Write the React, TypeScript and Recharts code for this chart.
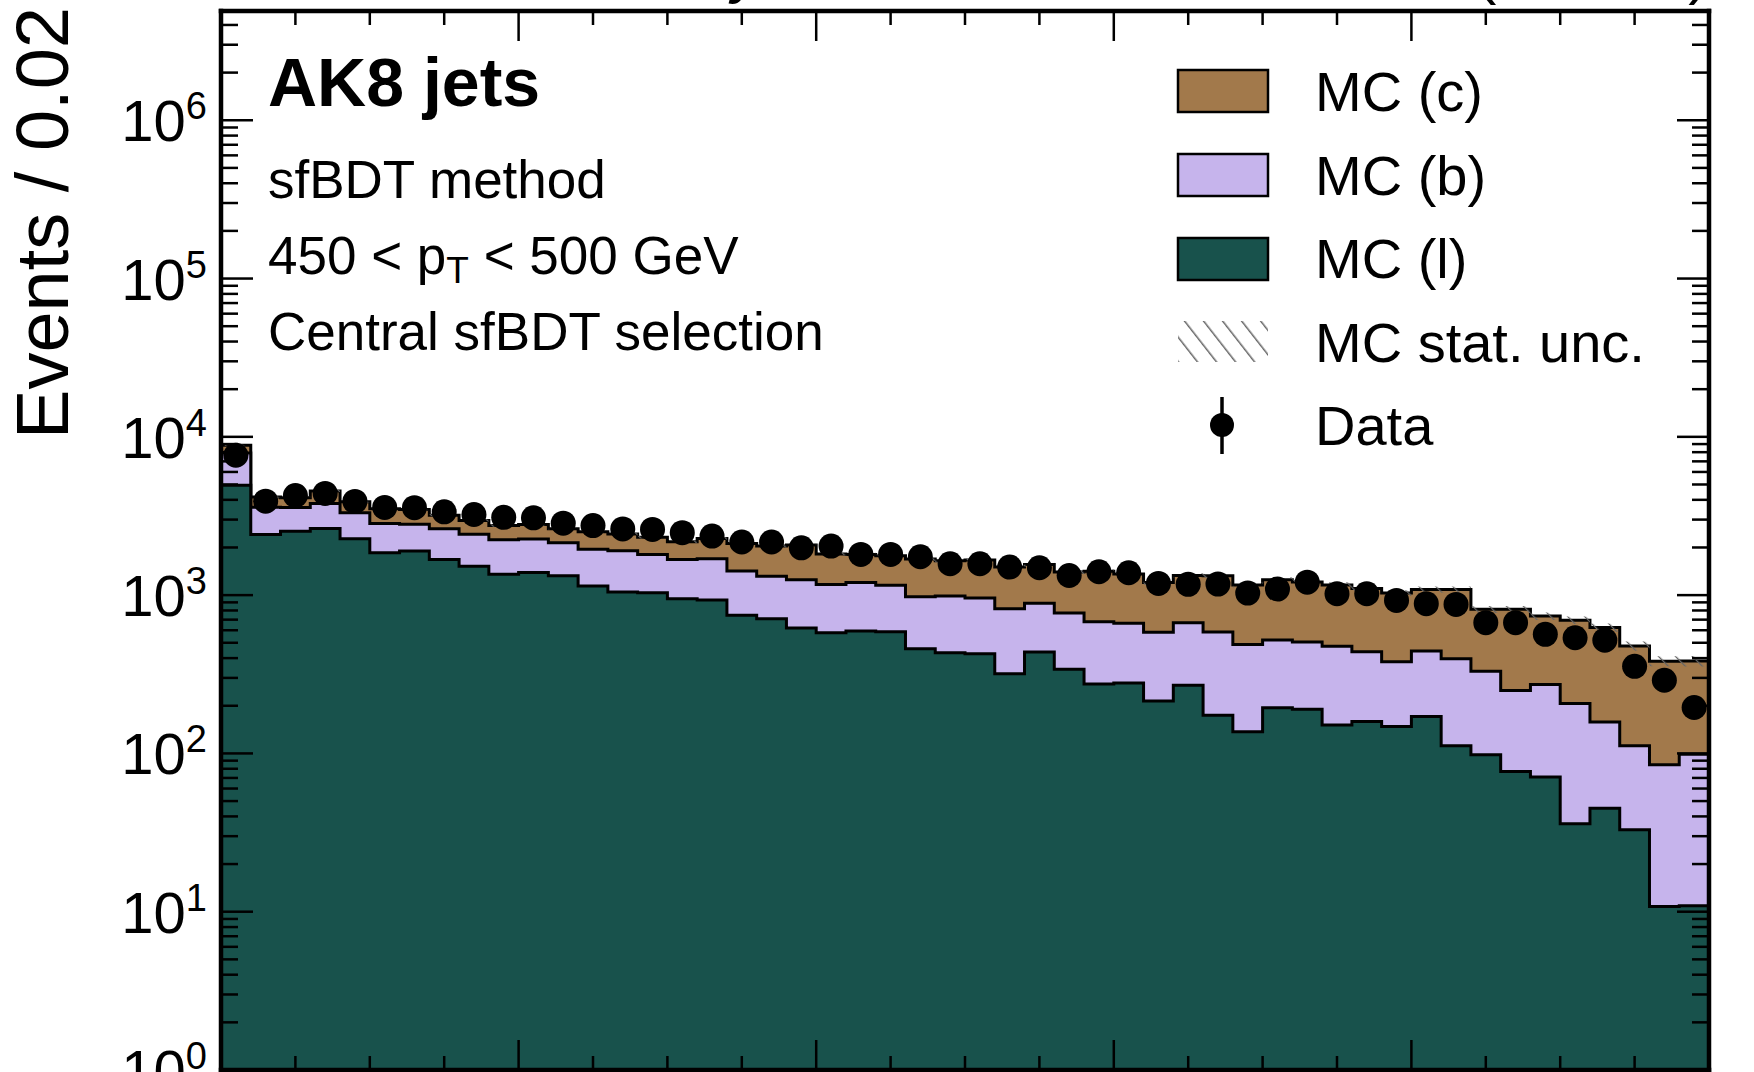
import React from 'react';
import { ComposedChart, Area, Line, XAxis, YAxis } from 'recharts';

const FONT = '"Liberation Sans", Arial, Helvetica, sans-serif';
const BROWN = '#a2794b';
const PURPLE = '#c6b4ec';
const GREEN = '#18524c';

// 50 bins of width 0.02 on [0, 1]
const BIN_WIDTH = 0.02;

// stacked MC yields per bin
const mcLight = [4950, 2415, 2535, 2635, 2270, 1850, 1900, 1680, 1522, 1355, 1390, 1325, 1140, 1048, 1035, 948, 930, 745, 708, 620, 579, 593, 587, 458, 432, 426, 319, 437, 340, 275, 279, 214, 270, 174, 137, 194, 190, 151, 159, 148, 171, 112, 98, 77, 71, 36, 45, 33, 10.8, 10.9];
const mcB = [2950, 1175, 1045, 1155, 1040, 980, 900, 950, 898, 885, 875, 817, 810, 857, 770, 732, 770, 673, 610, 630, 590, 607, 568, 519, 554, 534, 502, 450, 430, 403, 386, 368, 400, 410, 351, 326, 315, 325, 280, 232, 273, 284, 233, 173, 202, 171, 113, 79, 74, 88];
const mcC = [950, 580, 540, 760, 580, 680, 675, 570, 545, 515, 525, 488, 560, 525, 515, 490, 580, 702, 727, 820, 651, 608, 615, 713, 664, 708, 684, 675, 630, 737, 697, 618, 660, 741, 672, 730, 705, 684, 661, 650, 642, 690, 482, 563, 464, 488, 467, 365, 298, 284];
const mcStatUnc = [105, 62, 62, 66, 58, 55, 55, 52, 50, 48, 49, 47, 46, 46, 45, 44, 45, 45, 44, 45, 42, 43, 43, 42, 42, 43, 41, 43, 41, 42, 42, 40, 45, 46, 43, 47, 47, 46, 45, 44, 48, 49, 41, 42, 40, 39, 37, 32, 28, 29];
const dataCounts = [7650, 3925, 4260, 4390, 3910, 3580, 3570, 3360, 3230, 3100, 3080, 2850, 2750, 2620, 2600, 2480, 2360, 2165, 2165, 1990, 2040, 1807, 1807, 1747, 1578, 1578, 1504, 1489, 1331, 1405, 1384, 1185, 1170, 1175, 1030, 1092, 1208, 1020, 1020, 926, 883, 874, 670, 670, 565, 538, 519, 355, 290, 195];

const xTicks = [0, 0.05, 0.1, 0.15, 0.2, 0.25, 0.3, 0.35, 0.4, 0.45, 0.5, 0.55, 0.6, 0.65, 0.7, 0.75, 0.8, 0.85, 0.9, 0.95, 1];
const decades = [1, 10, 100, 1e3, 1e4, 1e5, 1e6];
const Y_MAX = 4.9e6;
const yTicks = decades.flatMap((d) => [1, 2, 3, 4, 5, 6, 7, 8, 9].map((m) => m * d)).filter((v) => v <= Y_MAX);

// histogram table: one row at each bin edge and one at each bin centre (for the data points)
const rows: any[] = [];
mcLight.forEach((l, i) => {
  const lb = l + mcB[i];
  const tot = lb + mcC[i];
  const base = { l, lb, tot, band: [tot - mcStatUnc[i], tot + mcStatUnc[i]] };
  rows.push({ x: i * BIN_WIDTH, ...base });
  rows.push({ x: (i + 0.5) * BIN_WIDTH, ...base, data: dataCounts[i] });
  if (i === mcLight.length - 1) rows.push({ x: (i + 1) * BIN_WIDTH, ...base });
});

const YTick = (props: any) => {
  const { x, y, payload, side } = props;
  const lg = Math.log10(payload.value);
  const exp = Math.round(lg);
  const major = Math.abs(lg - exp) < 1e-6;
  const dir = side === 'left' ? 1 : -1;
  const len = major ? 32 : 17;
  return (
    <g>
      <line x1={x} x2={x + dir * len} y1={y} y2={y} stroke="#000" strokeWidth={2.5} />
      {major && side === 'left' && (
        <text x={x - 14} y={y + 21} textAnchor="end" fontFamily={FONT} fontSize={58} fill="#000">
          10<tspan dy={-22} fontSize={38}>{exp}</tspan>
        </text>
      )}
    </g>
  );
};

const XTick = (props: any) => {
  const { x, y, payload, side } = props;
  const v = payload.value;
  const major = Math.abs(v * 5 - Math.round(v * 5)) < 1e-6;
  const dir = side === 'bottom' ? -1 : 1;
  const len = major ? 30 : 14;
  return <line x1={x} x2={x} y1={y} y2={y + dir * len} stroke="#000" strokeWidth={2.5} />;
};

const frame = { stroke: '#000', strokeWidth: 4.5, strokeLinecap: 'square' as const };

const Overlay = () => (
  <svg width={1754} height={1072} style={{ position: 'absolute', left: 0, top: 0, pointerEvents: 'none' }}>
    <defs>
      <pattern id="mcHatch" patternUnits="userSpaceOnUse" width={12} height={12} patternTransform="rotate(-45)">
        <line x1={0} y1={0} x2={0} y2={12} stroke="#666" strokeWidth={2.5} />
      </pattern>
      <pattern id="legHatch" patternUnits="userSpaceOnUse" width={15} height={15} patternTransform="rotate(-38)">
        <line x1={0} y1={0} x2={0} y2={15} stroke="#666" strokeWidth={3} />
      </pattern>
    </defs>
    <g fontFamily={FONT} fill="#000">
      {/* header, cut off by the top edge */}
      <text x={221} y={-8} fontSize={70} fontWeight="bold">CMS</text>
      <text x={762} y={-8} fontSize={60} fontStyle="italic" textAnchor="end">Preliminary</text>
      <text x={1709} y={-8} fontSize={62} textAnchor="end">138 fb<tspan dy={-22} fontSize={42}>-1</tspan><tspan dy={22}> (13 TeV)</tspan></text>

      <text transform="rotate(-90)" x={-7} y={68} textAnchor="end" fontSize={74}>Events / 0.02</text>

      <text x={268} y={106} fontSize={68} fontWeight="bold">AK8 jets</text>
      <text x={268} y={198} fontSize={53}>sfBDT method</text>
      <text x={268} y={274} fontSize={53}>
        450 &lt; p<tspan fontSize={37} dy={9}>T</tspan><tspan dy={-9}> &lt; 500 GeV</tspan>
      </text>
      <text x={268} y={350} fontSize={53}>Central sfBDT selection</text>

      <rect x={1178} y={70} width={90} height={42} fill={BROWN} stroke="#000" strokeWidth={2.5} />
      <rect x={1178} y={154} width={90} height={42} fill={PURPLE} stroke="#000" strokeWidth={2.5} />
      <rect x={1178} y={238} width={90} height={42} fill={GREEN} stroke="#000" strokeWidth={2.5} />
      <rect x={1178} y={321} width={90} height={41} fill="url(#legHatch)" />
      <line x1={1222} x2={1222} y1={397} y2={454} stroke="#000" strokeWidth={3.5} />
      <circle cx={1222} cy={425} r={12} fill="#000" />
      <text x={1315} y={111} fontSize={56}>MC (c)</text>
      <text x={1315} y={195} fontSize={56}>MC (b)</text>
      <text x={1315} y={278} fontSize={56}>MC (l)</text>
      <text x={1315} y={362} fontSize={56}>MC stat. unc.</text>
      <text x={1315} y={445} fontSize={56}>Data</text>
    </g>
  </svg>
);

export default function App() {
  return (
    <div style={{ position: 'absolute', left: 0, top: 0, width: 1754, height: 1072, background: '#fff' }}>
      <ComposedChart width={1754} height={1072} data={rows} margin={{ top: 10, right: 44, bottom: 1, left: 220 }}>
        <Area dataKey="tot" type="stepAfter" baseValue={1} fill={BROWN} fillOpacity={1} stroke="#000" strokeWidth={3} isAnimationActive={false} />
        <Area dataKey="lb" type="stepAfter" baseValue={1} fill={PURPLE} fillOpacity={1} stroke="#000" strokeWidth={3} isAnimationActive={false} />
        <Area dataKey="l" type="stepAfter" baseValue={1} fill={GREEN} fillOpacity={1} stroke="#000" strokeWidth={3} isAnimationActive={false} />
        <Area dataKey="band" type="stepAfter" fill="url(#mcHatch)" fillOpacity={1} stroke="none" isAnimationActive={false} />
        <Line dataKey="data" stroke="none" dot={{ r: 12.5, fill: '#000', stroke: 'none' }} activeDot={false} isAnimationActive={false} />
        <XAxis dataKey="x" type="number" domain={[0, 1]} ticks={xTicks} interval={0} height={1} tickSize={0} tickMargin={0}
          axisLine={frame} tick={(p: any) => <XTick {...p} side="bottom" />} allowDataOverflow />
        <XAxis xAxisId="top" orientation="top" dataKey="x" type="number" domain={[0, 1]} ticks={xTicks} interval={0} height={1} tickSize={0} tickMargin={0}
          axisLine={frame} tick={(p: any) => <XTick {...p} side="top" />} allowDataOverflow />
        <YAxis scale="log" type="number" domain={[1, Y_MAX]} ticks={yTicks} interval={0} width={1} tickSize={0} tickMargin={0}
          axisLine={frame} tick={(p: any) => <YTick {...p} side="left" />} allowDataOverflow />
        <YAxis yAxisId="right" orientation="right" scale="log" type="number" domain={[1, Y_MAX]} ticks={yTicks} interval={0} width={1} tickSize={0} tickMargin={0}
          axisLine={frame} tick={(p: any) => <YTick {...p} side="right" />} allowDataOverflow />
      </ComposedChart>
      <Overlay />
    </div>
  );
}
